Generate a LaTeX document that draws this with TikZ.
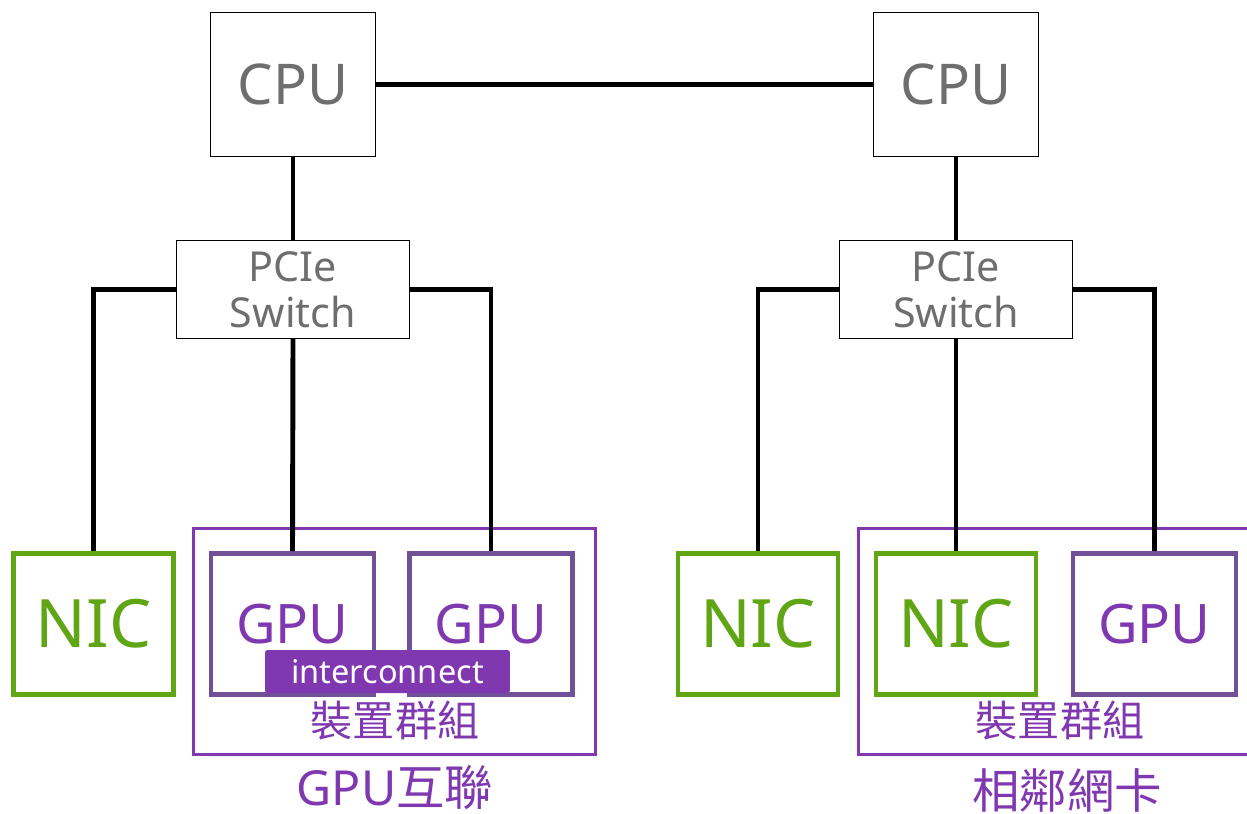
\documentclass[tikz,border=0pt]{standalone}
\usepackage{fontspec}
\setmainfont{Noto Sans}
\newfontfamily\cjk{Noto Sans CJK TC}
\definecolor{nicgreen}{RGB}{96,165,20}
\definecolor{gpuframe}{RGB}{112,80,150}
\definecolor{grppurple}{RGB}{128,56,176}
\definecolor{labelgray}{RGB}{110,110,110}
\begin{document}
\begin{tikzpicture}[x=0.02cm, y=-0.02cm]
    % Node styles
    \tikzstyle{cpu node}=[draw, line width=0.8pt, text=labelgray, minimum width=3.3cm, minimum height=2.88cm, font=\fontsize{32}{36}\selectfont]
    \tikzstyle{switch node}=[draw, line width=0.8pt, text=labelgray, minimum width=4.66cm, minimum height=1.96cm, align=center, font=\fontsize{23.5}{27}\selectfont]
    \tikzstyle{nic node}=[draw=nicgreen, line width=2.8pt, text=nicgreen, minimum width=3.2cm, minimum height=2.82cm, font=\fontsize{38}{42}\selectfont]
    \tikzstyle{gpu node}=[draw=gpuframe, line width=2.8pt, text=grppurple, minimum width=3.26cm, minimum height=2.82cm, font=\fontsize{31}{36}\selectfont]
    \tikzstyle{group box}=[draw=grppurple, line width=1.7pt, minimum width=8.06cm, minimum height=4.54cm]
    \tikzstyle{group label}=[text=grppurple, inner sep=0pt, font=\fontsize{24}{28}\selectfont\cjk]
    \tikzstyle{link}=[line width=2.8pt]

    \clip (0,0) rectangle (1247,814);

    % --- CPUs ---
    \node[cpu node] (cpu_l) at (293,84.5) {CPU};
    \node[cpu node] (cpu_r) at (956,84.5) {CPU};
    \draw[link] (cpu_l) -- (cpu_r);

    % --- PCIe switches ---
    \node[switch node] (sw_l) at (293,289.5) {PCIe\\[-1pt]Switch};
    \node[switch node] (sw_r) at (956,289.5) {PCIe\\[-1pt]Switch};
    \draw[link] (cpu_l) -- (sw_l);
    \draw[link] (cpu_r) -- (sw_r);

    % --- Groups ---
    \node[group box] (grp_l) at (394.5,641.5) {};
    \node[group box] (grp_r) at (1059.5,641.5) {};

    % --- Devices, left side ---
    \node[nic node] (nic_l) at (93.5,624) {NIC};
    \node[gpu node] (gpu_a) at (292.5,624) {GPU};
    \node[gpu node] (gpu_b) at (491,624) {GPU};

    % --- Devices, right side ---
    \node[nic node] (nic_r) at (758,624) {NIC};
    \node[nic node] (nic_g) at (956,624) {NIC};
    \node[gpu node] (gpu_r) at (1154.5,624) {GPU};

    % Interconnect bar between the two GPUs
    \node[fill=grppurple, rounded corners=1.5pt, text=white, minimum width=4.9cm, minimum height=0.86cm, inner sep=0pt, font=\fontsize{18.5}{22}\selectfont] (ic) at (387.5,671.5) {interconnect};

    % Edges from the switches
    \draw[link] (sw_l.west) -| (nic_l.north);
    \draw[link] (sw_l.south) -- (gpu_a.north);
    \draw[link] (sw_l.east) -| (gpu_b.north);
    \draw[link] (sw_r.west) -| (nic_r.north);
    \draw[link] (sw_r.south) -- (nic_g.north);
    \draw[link] (sw_r.east) -| (gpu_r.north);

    % Group labels
    \node[group label] (dev_l) at (395,721) {裝置群組};
    \node[group label] (dev_r) at (1060,721) {裝置群組};
    \node[group label, font=\fontsize{27.5}{30}\selectfont] (cap_l) at (395,788) {GPU{\cjk 互聯}};
    \node[group label, font=\fontsize{27}{30}\selectfont\cjk] (cap_r) at (1067,790) {相鄰網卡};
\end{tikzpicture}
\end{document}
